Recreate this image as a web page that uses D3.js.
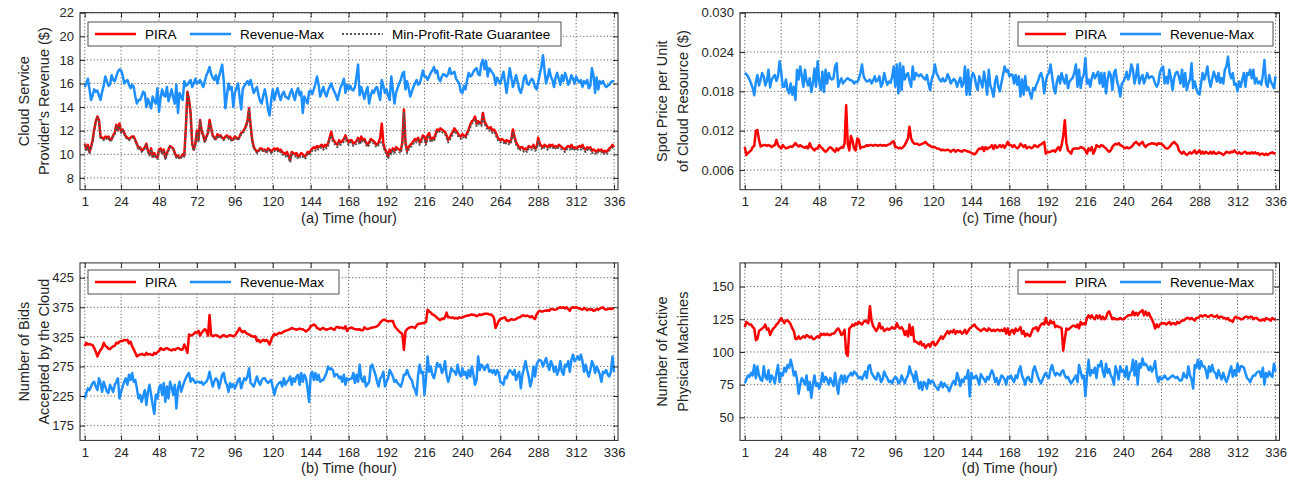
<!DOCTYPE html>
<html>
<head>
<meta charset="utf-8">
<script src="https://cdn.jsdelivr.net/npm/d3@7"></script>
<style>
  body { margin: 0; background: #fff; }
  svg { display: block; font-family: "Liberation Sans", Arial, Helvetica, sans-serif; }
  .grid line { stroke: #555; stroke-width: 0.9; stroke-dasharray: 1.2 2.2; }
  .tick line { stroke: #262626; }
  .tick text { fill: #262626; font-size: 13px; }
</style>
</head>
<body>
<svg id="chart" width="1295" height="485"></svg>
<script>
// hour ticks shared by all four panels
const hourTicks = [1, 24, 48, 72, 96, 120, 144, 168, 192, 216, 240, 264, 288, 312, 336];
const revenueTicks = [8, 10, 12, 14, 16, 18, 20, 22];
const priceTicks = [0.006, 0.012, 0.018, 0.024, 0.030];
const bidTicks = [175, 225, 275, 325, 375, 425];
const machineTicks = [50, 75, 100, 125, 150];

// (a) provider revenue ($), hourly
const revenuePIRA = [
  10.9,10.4,10.8,10.2,10.6,11.2,12.1,12.8,13.2,12.9,11.5,11.4,11.3,11.5,11.4,11.5,11.2,11.3,11.6,11.8,12.5,12.1,12.6,11.9,
  12.1,11.8,11.5,11.4,11.3,11.4,11.5,11.5,11.2,10.9,10.5,10.6,10.3,10.4,10.6,10.9,10.3,10.0,10.5,9.8,10.1,9.8,9.7,10.4,
  10.5,10.1,10.4,9.7,10.1,10.4,10.7,10.6,10.5,10.1,9.8,9.9,9.7,9.8,10.0,9.9,12.3,15.3,14.6,13.5,10.9,10.4,10.9,12.0,
  11.2,12.9,12.0,11.6,11.1,11.5,11.8,12.9,12.2,11.6,11.4,11.3,11.7,11.5,11.6,11.4,11.3,11.5,11.6,11.4,11.5,11.2,11.3,11.5,
  11.4,11.3,11.5,11.8,11.9,12.1,12.4,12.8,13.9,12.4,11.2,10.6,10.4,10.2,10.3,10.5,10.5,10.3,10.4,10.2,10.5,10.4,10.2,10.4,
  10.5,10.4,10.5,10.3,10.4,10.2,10.1,10.0,10.2,9.9,9.5,10.2,10.1,10.0,10.1,9.8,9.9,10.1,10.0,9.8,9.9,10.2,10.1,10.3,
  10.5,10.6,10.5,10.7,10.6,10.7,10.8,10.6,10.8,10.7,10.9,11.4,11.9,11.3,11.1,10.9,10.8,11.2,11.0,11.1,11.3,11.6,11.2,11.0,
  11.2,11.2,10.9,11.0,11.1,11.4,11.0,11.5,11.2,11.3,11.0,10.8,11.0,11.3,11.2,11.1,10.9,10.8,11.0,11.4,12.6,10.9,10.4,10.2,
  9.8,10.4,10.2,10.5,10.3,10.6,10.5,10.4,10.3,11.0,13.8,11.0,10.3,10.6,10.8,10.9,11.1,11.3,11.2,11.4,11.0,11.2,11.6,11.5,
  11.0,11.6,11.8,11.2,11.4,11.3,11.7,12.1,12.0,12.2,12.1,12.0,11.9,11.6,11.2,11.4,11.7,11.9,12.2,12.0,11.8,11.6,11.5,11.7,
  11.6,11.5,11.8,12.1,12.5,12.8,12.9,13.2,12.6,12.8,12.7,12.6,13.5,12.8,12.5,12.3,12.2,12.3,12.0,12.1,11.9,11.5,11.3,11.2,
  11.3,11.2,11.0,11.2,11.1,11.0,11.3,12.1,11.5,11.0,10.8,10.5,10.6,10.6,10.4,10.5,10.4,10.7,10.6,10.6,10.8,10.5,10.6,11.4,
  10.9,10.7,10.6,10.8,10.7,10.6,10.8,10.7,10.8,10.6,10.7,10.6,10.8,10.7,10.6,10.5,10.4,10.6,10.7,10.6,10.8,10.5,10.6,10.5,
  10.6,10.7,10.6,10.8,10.5,10.4,10.6,10.5,10.6,10.3,10.4,10.3,10.2,10.4,10.3,10.4,10.2,10.3,10.2,10.3,10.5,10.6,10.8,10.6
];
const revenueMax = [
  15.7,16.0,16.4,15.5,14.6,15.0,15.5,15.3,15.4,15.0,14.6,15.3,15.8,16.6,16.2,15.8,15.9,16.7,16.3,16.2,16.6,17.0,17.2,17.1,
  16.7,16.0,16.2,16.3,15.9,15.6,15.9,15.7,14.9,14.3,14.6,14.6,14.9,15.3,15.2,14.0,14.7,14.3,13.9,14.9,14.5,14.3,15.6,13.6,
  14.8,15.5,15.0,14.9,15.7,14.5,15.0,15.5,14.8,14.3,15.9,13.5,15.2,14.9,14.6,16.2,15.8,15.9,16.1,16.3,15.7,16.0,16.4,16.0,
  16.1,16.3,16.0,15.7,16.2,16.7,17.0,17.4,16.8,16.5,16.3,16.7,16.0,16.6,17.1,17.6,16.2,13.9,15.0,16.0,15.5,15.7,14.0,15.2,
  15.6,16.0,14.9,13.8,15.5,15.8,16.0,16.2,15.9,16.3,15.7,15.2,15.5,15.7,15.0,14.5,14.3,15.0,15.5,14.8,13.8,13.3,14.6,15.5,
  14.6,15.2,15.6,15.0,14.6,15.1,15.3,14.9,14.8,14.7,15.2,15.5,15.0,14.6,15.3,15.6,15.0,15.3,13.5,14.9,14.6,14.3,15.3,15.4,
  15.1,15.5,16.0,16.6,15.9,14.9,15.3,15.7,15.2,14.9,15.4,15.7,16.0,15.6,15.3,15.0,14.6,15.2,15.7,16.0,16.4,15.2,15.9,15.5,
  15.8,15.5,15.4,15.7,16.6,17.6,15.0,15.7,15.2,14.7,15.3,15.7,14.3,15.0,15.4,15.2,15.6,15.7,15.1,14.6,16.3,15.8,15.2,15.5,
  15.0,14.6,16.6,15.5,14.3,15.2,15.6,16.0,16.3,16.8,17.0,15.5,16.2,15.6,14.9,15.3,15.7,16.0,16.3,15.9,16.0,16.5,17.1,16.6,
  16.6,16.3,16.6,16.9,17.1,17.4,16.9,17.1,16.4,16.2,16.6,16.8,16.7,16.6,16.8,17.3,16.8,16.9,17.0,16.4,16.2,16.0,15.3,15.2,
  15.8,15.5,16.3,16.9,16.6,16.7,17.0,17.2,17.3,16.8,16.7,17.7,18.0,17.2,17.9,16.6,17.3,17.1,16.9,16.7,15.9,16.5,16.2,16.0,
  16.5,17.0,16.1,15.2,16.3,17.3,16.5,15.7,16.2,16.7,16.1,15.5,15.2,15.7,16.5,16.7,16.0,15.9,16.2,16.4,16.2,15.7,15.5,16.1,
  16.8,17.4,18.4,17.1,16.0,16.5,17.2,16.6,16.3,15.7,16.5,16.9,16.4,15.9,16.7,16.2,16.9,16.5,15.9,16.2,16.7,16.4,16.0,16.6,
  16.3,16.1,16.3,15.7,16.2,16.0,16.3,15.6,15.8,17.3,16.7,15.2,16.5,15.5,16.2,16.0,16.2,15.9,15.7,15.8,15.9,16.1,16.2,16.2
];
const revenueMinProfit = [
  10.8,10.3,10.6,10.1,10.5,11.1,12.0,12.7,13.1,12.8,11.4,11.3,11.2,11.4,11.3,11.4,11.1,11.2,11.5,11.7,12.4,12.0,12.4,11.8,
  12.0,11.7,11.4,11.3,11.2,11.3,11.4,11.4,11.1,10.8,10.4,10.5,10.2,10.3,10.5,10.8,10.2,9.9,10.4,9.7,10.0,9.7,9.6,10.3,
  10.4,10.0,10.3,9.6,10.0,10.3,10.6,10.5,10.4,10.0,9.7,9.8,9.6,9.7,9.9,9.8,12.2,15.2,14.5,13.4,10.8,10.3,10.8,11.9,
  11.1,12.8,11.9,11.5,11.0,11.4,11.7,12.7,12.1,11.5,11.3,11.2,11.6,11.4,11.5,11.3,11.2,11.4,11.5,11.3,11.4,11.1,11.2,11.4,
  11.3,11.2,11.4,11.7,11.8,12.0,12.3,12.7,13.8,12.3,11.1,10.5,10.3,10.1,10.2,10.4,10.4,10.2,10.3,10.1,10.4,10.3,10.1,10.3,
  10.3,10.2,10.3,10.1,10.2,10.0,9.9,9.8,10.0,9.7,9.3,10.0,9.9,9.8,9.9,9.6,9.7,9.9,9.8,9.6,9.7,10.0,9.9,10.1,
  10.3,10.4,10.3,10.5,10.4,10.5,10.6,10.4,10.6,10.5,10.7,11.2,11.6,11.1,10.9,10.7,10.6,11.0,10.8,10.9,11.1,11.4,11.0,10.8,
  11.0,11.0,10.7,10.8,10.9,11.2,10.8,11.2,11.0,11.1,10.8,10.6,10.8,11.1,11.0,10.9,10.7,10.6,10.8,11.0,11.0,10.7,10.2,10.0,
  9.6,10.2,10.0,10.3,10.1,10.4,10.3,10.2,10.1,10.8,13.6,10.8,10.1,10.4,10.6,10.7,10.9,11.1,11.0,11.2,10.8,11.0,11.4,11.3,
  10.8,11.4,11.6,11.0,11.2,11.1,11.5,11.9,11.8,12.0,11.9,11.8,11.7,11.4,11.0,11.2,11.5,11.7,12.0,11.8,11.6,11.4,11.3,11.5,
  11.4,11.3,11.6,11.9,12.3,12.6,12.7,13.0,12.4,12.6,12.5,12.4,13.3,12.6,12.3,12.1,12.0,12.1,11.8,11.9,11.7,11.3,11.1,11.0,
  11.1,11.0,10.8,11.0,10.9,10.8,11.1,11.9,11.3,10.8,10.6,10.3,10.4,10.4,10.2,10.3,10.2,10.5,10.4,10.4,10.6,10.3,10.4,11.2,
  10.7,10.5,10.4,10.6,10.5,10.4,10.6,10.5,10.6,10.4,10.5,10.4,10.6,10.5,10.4,10.3,10.2,10.4,10.5,10.4,10.6,10.3,10.4,10.3,
  10.4,10.5,10.4,10.6,10.3,10.2,10.4,10.3,10.4,10.1,10.2,10.1,10.0,10.2,10.1,10.2,10.0,10.1,10.0,10.1,10.3,10.4,10.6,10.4
];

// (c) spot price per unit of cloud resource ($)
const pricePIRA = [
  0.0095,0.0083,0.0086,0.0088,0.0090,0.0095,0.0097,0.0120,0.0121,0.0106,0.0096,0.0097,0.0098,0.0098,0.0097,0.0098,0.0097,0.0095,0.0097,0.0098,0.0106,0.0098,0.0095,0.0093,
  0.0098,0.0095,0.0093,0.0094,0.0095,0.0096,0.0095,0.0098,0.0101,0.0098,0.0096,0.0098,0.0096,0.0095,0.0094,0.0096,0.0093,0.0101,0.0095,0.0092,0.0090,0.0093,0.0093,0.0098,
  0.0095,0.0093,0.0090,0.0088,0.0090,0.0093,0.0095,0.0093,0.0090,0.0088,0.0093,0.0090,0.0093,0.0095,0.0094,0.0100,0.0159,0.0100,0.0090,0.0112,0.0105,0.0093,0.0090,0.0108,
  0.0106,0.0093,0.0095,0.0095,0.0096,0.0098,0.0097,0.0098,0.0098,0.0097,0.0098,0.0098,0.0097,0.0098,0.0098,0.0097,0.0098,0.0097,0.0098,0.0099,0.0100,0.0103,0.0104,0.0095,
  0.0095,0.0093,0.0094,0.0093,0.0095,0.0098,0.0103,0.0108,0.0126,0.0108,0.0103,0.0100,0.0100,0.0100,0.0098,0.0099,0.0100,0.0101,0.0103,0.0100,0.0098,0.0097,0.0095,0.0095,
  0.0095,0.0093,0.0093,0.0092,0.0090,0.0091,0.0090,0.0090,0.0091,0.0090,0.0088,0.0090,0.0091,0.0088,0.0090,0.0090,0.0089,0.0088,0.0090,0.0090,0.0089,0.0088,0.0088,0.0086,
  0.0085,0.0084,0.0086,0.0090,0.0093,0.0092,0.0095,0.0089,0.0095,0.0092,0.0094,0.0095,0.0098,0.0092,0.0098,0.0094,0.0095,0.0098,0.0095,0.0098,0.0094,0.0098,0.0103,0.0098,
  0.0098,0.0095,0.0098,0.0095,0.0093,0.0095,0.0100,0.0098,0.0095,0.0098,0.0093,0.0095,0.0095,0.0093,0.0095,0.0098,0.0096,0.0095,0.0098,0.0099,0.0101,0.0103,0.0085,0.0088,
  0.0087,0.0088,0.0089,0.0090,0.0088,0.0092,0.0095,0.0090,0.0098,0.0112,0.0136,0.0101,0.0090,0.0088,0.0085,0.0092,0.0093,0.0093,0.0093,0.0093,0.0095,0.0094,0.0093,0.0090,
  0.0085,0.0093,0.0090,0.0095,0.0085,0.0090,0.0098,0.0096,0.0095,0.0098,0.0097,0.0095,0.0093,0.0090,0.0088,0.0090,0.0095,0.0098,0.0100,0.0099,0.0101,0.0098,0.0097,0.0095,
  0.0093,0.0095,0.0093,0.0094,0.0095,0.0098,0.0101,0.0103,0.0100,0.0098,0.0101,0.0103,0.0098,0.0095,0.0098,0.0099,0.0100,0.0101,0.0100,0.0100,0.0098,0.0101,0.0100,0.0100,
  0.0098,0.0095,0.0093,0.0093,0.0095,0.0098,0.0101,0.0103,0.0100,0.0098,0.0090,0.0087,0.0085,0.0088,0.0085,0.0083,0.0085,0.0087,0.0085,0.0087,0.0090,0.0085,0.0087,0.0090,
  0.0085,0.0088,0.0085,0.0088,0.0086,0.0085,0.0088,0.0085,0.0088,0.0085,0.0085,0.0087,0.0086,0.0085,0.0083,0.0085,0.0088,0.0087,0.0086,0.0088,0.0087,0.0090,0.0087,0.0085,
  0.0087,0.0085,0.0085,0.0087,0.0088,0.0085,0.0086,0.0085,0.0087,0.0085,0.0087,0.0085,0.0086,0.0083,0.0085,0.0085,0.0083,0.0085,0.0083,0.0085,0.0086,0.0087,0.0085,0.0086
];
const priceMax = [
  0.0208,0.0206,0.0203,0.0198,0.0192,0.0185,0.0174,0.0194,0.0205,0.0189,0.0198,0.0208,0.0203,0.0189,0.0196,0.0213,0.0186,0.0198,0.0202,0.0205,0.0196,0.0203,0.0226,0.0210,
  0.0187,0.0187,0.0198,0.0182,0.0177,0.0192,0.0175,0.0187,0.0167,0.0213,0.0198,0.0218,0.0203,0.0187,0.0213,0.0196,0.0189,0.0200,0.0179,0.0192,0.0215,0.0187,0.0226,0.0195,
  0.0182,0.0210,0.0179,0.0213,0.0192,0.0208,0.0200,0.0198,0.0200,0.0218,0.0223,0.0187,0.0195,0.0200,0.0192,0.0195,0.0198,0.0200,0.0198,0.0197,0.0196,0.0192,0.0195,0.0194,
  0.0199,0.0208,0.0221,0.0203,0.0198,0.0195,0.0196,0.0198,0.0192,0.0196,0.0203,0.0195,0.0197,0.0203,0.0187,0.0192,0.0208,0.0198,0.0190,0.0195,0.0193,0.0202,0.0218,0.0187,
  0.0221,0.0177,0.0223,0.0182,0.0218,0.0198,0.0205,0.0208,0.0196,0.0187,0.0218,0.0198,0.0208,0.0205,0.0203,0.0206,0.0203,0.0200,0.0198,0.0205,0.0191,0.0182,0.0199,0.0205,
  0.0221,0.0208,0.0203,0.0198,0.0195,0.0200,0.0195,0.0197,0.0206,0.0201,0.0192,0.0196,0.0199,0.0196,0.0187,0.0194,0.0201,0.0187,0.0192,0.0218,0.0175,0.0213,0.0175,0.0200,
  0.0208,0.0203,0.0190,0.0182,0.0203,0.0195,0.0186,0.0210,0.0195,0.0175,0.0213,0.0189,0.0182,0.0172,0.0195,0.0203,0.0187,0.0180,0.0193,0.0205,0.0218,0.0210,0.0213,0.0203,
  0.0206,0.0205,0.0192,0.0205,0.0190,0.0203,0.0172,0.0198,0.0175,0.0203,0.0182,0.0186,0.0177,0.0169,0.0185,0.0182,0.0190,0.0195,0.0203,0.0208,0.0200,0.0177,0.0195,0.0205,
  0.0208,0.0221,0.0203,0.0185,0.0177,0.0195,0.0203,0.0192,0.0208,0.0198,0.0192,0.0205,0.0185,0.0195,0.0198,0.0201,0.0208,0.0221,0.0187,0.0213,0.0185,0.0200,0.0205,0.0231,
  0.0192,0.0198,0.0187,0.0200,0.0208,0.0200,0.0205,0.0210,0.0192,0.0208,0.0187,0.0208,0.0177,0.0198,0.0210,0.0205,0.0182,0.0208,0.0213,0.0195,0.0187,0.0172,0.0192,0.0195,
  0.0200,0.0210,0.0198,0.0205,0.0221,0.0213,0.0192,0.0203,0.0221,0.0192,0.0200,0.0205,0.0192,0.0200,0.0208,0.0200,0.0202,0.0203,0.0200,0.0192,0.0187,0.0192,0.0208,0.0215,
  0.0218,0.0192,0.0202,0.0192,0.0213,0.0200,0.0182,0.0200,0.0208,0.0210,0.0203,0.0192,0.0213,0.0187,0.0208,0.0182,0.0192,0.0198,0.0223,0.0185,0.0195,0.0185,0.0177,0.0175,
  0.0192,0.0208,0.0198,0.0206,0.0218,0.0198,0.0187,0.0199,0.0210,0.0203,0.0195,0.0208,0.0193,0.0200,0.0192,0.0213,0.0218,0.0233,0.0208,0.0200,0.0208,0.0190,0.0192,0.0180,
  0.0195,0.0187,0.0198,0.0208,0.0187,0.0208,0.0205,0.0213,0.0200,0.0213,0.0192,0.0200,0.0192,0.0195,0.0190,0.0205,0.0228,0.0192,0.0187,0.0205,0.0195,0.0190,0.0185,0.0203
];

// (b) number of bids accepted by the cloud
const bidsPIRA = [
  309,315,312,313,312,311,306,300,292,298,303,306,315,310,308,305,304,307,309,310,315,314,317,318,
  318,320,319,320,314,317,309,304,298,292,294,295,296,295,294,298,295,296,295,294,298,296,299,301,
  306,304,303,305,306,304,303,302,304,303,305,306,305,303,304,312,306,298,329,327,328,330,333,332,
  335,327,332,335,338,335,327,362,328,326,327,328,327,325,324,327,328,326,325,327,328,327,326,327,
  331,335,340,335,333,335,332,330,329,327,326,325,326,318,320,316,318,320,318,320,317,312,320,326,
  330,328,330,332,331,332,334,335,336,337,338,340,339,338,337,338,339,338,338,336,334,336,338,343,
  344,346,344,340,339,337,339,340,338,337,338,339,340,338,337,341,342,340,341,340,339,343,335,339,
  340,341,339,338,338,337,338,336,336,341,339,338,339,340,341,341,342,343,345,349,352,354,354,352,
  351,352,352,352,344,340,337,334,332,330,303,334,338,340,341,342,341,340,344,347,347,348,348,349,
  350,371,368,366,363,362,360,357,355,353,356,355,358,366,358,358,357,358,356,357,356,358,357,358,
  359,360,361,361,362,363,362,362,360,361,363,362,363,364,364,364,363,363,361,357,340,346,352,355,
  356,357,358,353,352,353,355,354,354,355,357,358,359,361,361,360,361,360,358,360,357,355,363,367,
  369,368,368,369,369,370,369,372,372,371,371,372,374,375,374,375,373,375,372,369,374,375,374,375,
  374,373,372,371,374,372,370,372,371,372,369,370,372,371,373,374,375,372,371,372,373,372,373,373
];
const bidsMax = [
  221,230,238,235,241,247,249,241,235,255,247,232,249,241,233,230,244,238,232,244,249,255,221,232,
  241,249,255,244,261,252,264,249,252,238,221,227,215,225,235,210,232,244,227,210,195,227,221,238,
  244,227,247,215,241,221,249,240,227,244,204,238,249,232,241,249,255,261,264,249,255,252,247,249,
  249,247,249,244,247,249,255,266,252,241,250,255,252,238,249,261,264,249,244,232,247,240,245,238,
  244,252,255,238,247,255,252,258,272,247,244,241,250,258,249,244,252,255,255,250,247,250,252,240,
  227,238,244,247,249,241,255,244,249,252,258,244,255,249,258,261,244,264,249,261,255,238,215,261,
  266,252,264,252,261,249,252,252,258,264,275,270,272,269,258,262,261,255,258,249,261,244,255,252,
  254,255,264,247,261,249,278,255,249,258,241,245,249,275,278,269,261,249,241,255,258,266,241,249,
  255,269,264,258,249,252,247,244,241,249,261,261,269,261,255,252,241,236,227,261,278,264,266,227,
  255,292,266,275,261,255,266,281,275,278,264,269,284,261,249,258,272,268,266,261,278,264,258,272,
  261,266,255,269,258,275,261,244,252,292,269,278,275,269,275,278,266,269,264,269,261,269,264,249,
  247,244,258,255,264,269,266,261,269,252,260,266,238,261,272,284,269,258,241,252,275,258,278,284,
  286,284,275,282,289,278,269,284,278,266,275,261,269,284,266,261,278,275,284,266,286,295,284,287,
  292,286,295,284,266,278,266,258,269,284,278,264,275,269,261,249,266,264,269,261,258,266,292,266
];

// (d) number of active physical machines
const machinesPIRA = [
  119,123,122,121,121,119,118,109,110,116,117,118,119,121,117,118,113,116,118,119,121,122,124,126,
  124,122,124,124,123,121,118,116,110,110,112,110,111,112,111,113,112,111,112,110,110,111,112,111,
  114,113,114,113,114,113,113,114,114,115,117,118,116,113,114,117,99,97,118,119,121,120,122,121,
  123,122,121,123,124,123,122,135,124,120,118,116,118,122,118,119,116,117,118,117,118,119,118,118,
  122,119,118,119,117,113,116,112,121,113,119,108,108,107,106,108,105,106,103,105,106,104,107,108,
  105,106,108,110,112,110,112,114,116,114,116,115,117,114,116,115,116,114,115,117,114,116,118,119,
  120,121,119,118,117,116,117,118,117,116,118,117,116,117,116,117,117,116,117,116,118,114,118,113,
  116,117,114,118,116,117,119,114,116,112,114,113,112,115,118,118,119,116,119,121,122,121,126,122,
  121,124,122,123,119,120,119,119,118,101,110,118,117,118,119,120,120,119,121,118,123,121,122,121,
  126,128,126,128,126,125,128,126,128,125,127,125,126,130,131,128,125,126,125,125,125,126,125,125,
  126,127,128,128,128,131,128,130,128,130,131,132,128,131,128,130,127,125,122,118,121,119,121,122,
  122,122,121,122,123,121,122,122,121,123,122,123,124,124,125,126,126,125,126,125,124,126,126,127,
  128,127,128,128,127,127,128,128,127,127,128,126,127,127,126,126,125,126,124,124,123,126,127,126,
  126,125,125,126,127,127,126,127,127,125,126,126,125,124,124,125,124,126,125,125,124,126,125,125
];
const machinesMax = [
  76,79,82,81,84,82,90,80,89,82,79,78,89,81,79,86,77,82,80,76,84,90,77,84,
  82,88,85,90,88,94,89,82,85,79,68,75,80,78,75,82,71,77,65,75,82,74,76,72,
  76,84,77,81,79,75,80,77,74,84,75,68,79,82,76,82,77,81,82,84,82,85,84,82,
  80,81,79,82,85,80,89,90,84,82,80,79,84,82,77,79,85,82,80,77,78,76,79,81,
  80,76,77,82,79,76,80,82,89,84,82,77,85,79,72,77,71,77,76,72,79,76,78,77,
  74,73,71,74,77,73,76,74,73,70,73,76,78,75,84,80,74,79,77,81,80,86,66,84,
  80,80,82,79,75,83,81,79,77,81,79,83,86,83,77,80,75,78,82,81,79,75,81,80,
  82,79,77,82,80,86,89,82,79,75,80,81,78,77,86,89,85,81,78,76,79,82,84,81,
  80,87,90,85,82,84,83,82,85,86,82,80,81,78,76,78,80,82,77,90,85,80,82,66,
  82,94,82,86,84,88,80,90,89,93,85,81,91,84,87,82,80,75,89,85,79,89,85,86,
  81,89,79,84,86,94,82,93,75,91,88,95,90,91,89,86,89,85,88,93,82,77,81,79,
  80,82,80,79,80,81,82,81,80,81,79,78,79,84,81,80,89,82,79,72,90,88,94,87,
  93,89,89,86,80,89,85,90,85,84,80,86,82,79,84,80,77,80,85,89,81,86,82,91,
  85,89,89,88,84,80,79,77,80,82,82,84,85,85,81,88,75,84,81,85,82,81,91,85
];

const RED = '#ff0000';
const BLUE = '#1e8fff';
const GREY = '#555555';

const svg = d3.select('#chart');

const panels = [
  {
    box: {left: 80, right: 618, top: 12.7, bottom: 189.7},
    yDomain: [7, 22], yTicks: revenueTicks, yFormat: d3.format('d'),
    series: [
      {values: revenuePIRA, color: RED, width: 2.5},
      {values: revenueMax, color: BLUE, width: 2.5},
      {values: revenueMinProfit, color: GREY, width: 2, dash: '2 2'}
    ],
    yLabel: ['Cloud Service', "Provider's Revenue ($)"], labelX: [24, 44],
    xLabel: '(a) Time (hour)',
    legend: {x: 88, y: 22, w: 473, items: [
      {label: 'PIRA', color: RED, x: 95},
      {label: 'Revenue-Max', color: BLUE, x: 190},
      {label: 'Min-Profit-Rate Guarantee', color: GREY, x: 342, dash: '2 2', width: 2}
    ]}
  },
  {
    box: {left: 740, right: 1279.5, top: 12.7, bottom: 189.7},
    yDomain: [0.003, 0.030], yTicks: priceTicks, yFormat: d3.format('.3f'),
    series: [
      {values: pricePIRA, color: RED, width: 2.5},
      {values: priceMax, color: BLUE, width: 2.5}
    ],
    yLabel: ['Spot Price per Unit', 'of Cloud Resource ($)'], labelX: [662, 683],
    xLabel: '(c) Time (hour)',
    legend: {x: 1018, y: 22, w: 255, items: [
      {label: 'PIRA', color: RED, x: 1025},
      {label: 'Revenue-Max', color: BLUE, x: 1120}
    ]}
  },
  {
    box: {left: 80, right: 618, top: 262.9, bottom: 440.4},
    yDomain: [150, 450], yTicks: bidTicks, yFormat: d3.format('d'),
    series: [
      {values: bidsPIRA, color: RED, width: 2.5},
      {values: bidsMax, color: BLUE, width: 2.5}
    ],
    yLabel: ['Number of Bids', 'Accepted by the Cloud'], labelX: [24, 44],
    xLabel: '(b) Time (hour)',
    legend: {x: 88, y: 270, w: 251, items: [
      {label: 'PIRA', color: RED, x: 95},
      {label: 'Revenue-Max', color: BLUE, x: 190}
    ]}
  },
  {
    box: {left: 740, right: 1279.5, top: 262.9, bottom: 440.4},
    yDomain: [32.4, 168.1], yTicks: machineTicks, yFormat: d3.format('d'),
    series: [
      {values: machinesPIRA, color: RED, width: 2.5},
      {values: machinesMax, color: BLUE, width: 2.5}
    ],
    yLabel: ['Number of Active', 'Physical Machines'], labelX: [662, 683],
    xLabel: '(d) Time (hour)',
    legend: {x: 1018, y: 270, w: 255, items: [
      {label: 'PIRA', color: RED, x: 1025},
      {label: 'Revenue-Max', color: BLUE, x: 1120}
    ]}
  }
];

function drawPanel(p) {
  const {left, right, top, bottom} = p.box;
  const g = svg.append('g');
  const x = d3.scaleLinear().domain([-2, 338.5]).range([left, right]);
  const y = d3.scaleLinear().domain(p.yDomain).range([bottom, top]);

  // dotted grid
  const grid = g.append('g').attr('class', 'grid');
  grid.selectAll('.gx').data(hourTicks).join('line')
    .attr('x1', d => x(d)).attr('x2', d => x(d))
    .attr('y1', top).attr('y2', bottom);
  grid.selectAll('.gy').data(p.yTicks).join('line')
    .attr('x1', left).attr('x2', right)
    .attr('y1', d => y(d)).attr('y2', d => y(d));

  // data lines
  const line = d3.line().x((d, i) => x(i + 1)).y(d => y(d));
  p.series.forEach(s => {
    g.append('path').datum(s.values)
      .attr('d', line)
      .attr('fill', 'none')
      .attr('stroke', s.color)
      .attr('stroke-width', s.width)
      .attr('stroke-linejoin', 'round')
      .attr('stroke-dasharray', s.dash || null);
  });

  // axes, ticks pointing inward
  const axes = [
    g.append('g').attr('transform', `translate(0,${bottom})`)
      .call(d3.axisBottom(x).tickValues(hourTicks).tickSizeInner(-5).tickSizeOuter(0).tickPadding(7)),
    g.append('g').attr('transform', `translate(0,${top})`)
      .call(d3.axisTop(x).tickValues(hourTicks).tickSizeInner(-5).tickSizeOuter(0).tickFormat('')),
    g.append('g').attr('transform', `translate(${left},0)`)
      .call(d3.axisLeft(y).tickValues(p.yTicks).tickFormat(p.yFormat).tickSizeInner(-5).tickSizeOuter(0).tickPadding(6)),
    g.append('g').attr('transform', `translate(${right},0)`)
      .call(d3.axisRight(y).tickValues(p.yTicks).tickSizeInner(-5).tickSizeOuter(0).tickFormat(''))
  ];
  axes.forEach(a => { a.select('.domain').remove(); a.attr('font-family', null).attr('font-size', null); });

  g.append('rect')
    .attr('x', left).attr('y', top)
    .attr('width', right - left).attr('height', bottom - top)
    .attr('fill', 'none').attr('stroke', '#262626').attr('stroke-width', 1);

  // axis titles
  g.append('text')
    .attr('x', (left + right) / 2).attr('y', bottom + 33)
    .attr('text-anchor', 'middle').attr('font-size', 14.5).attr('fill', '#262626')
    .text(p.xLabel);
  const midY = (top + bottom) / 2;
  p.yLabel.forEach((t, i) => {
    g.append('text')
      .attr('transform', `translate(${p.labelX[i]},${midY}) rotate(-90)`)
      .attr('text-anchor', 'middle').attr('dy', '0.35em')
      .attr('font-size', 14.5).attr('fill', '#262626')
      .text(t);
  });

  // legend
  const L = p.legend;
  const lg = g.append('g');
  lg.append('rect')
    .attr('x', L.x).attr('y', L.y).attr('width', L.w).attr('height', 24)
    .attr('fill', '#fff').attr('stroke', '#262626').attr('stroke-width', 0.8);
  L.items.forEach(it => {
    lg.append('line')
      .attr('x1', it.x).attr('x2', it.x + 41)
      .attr('y1', L.y + 12).attr('y2', L.y + 12)
      .attr('stroke', it.color).attr('stroke-width', it.width || 2.5)
      .attr('stroke-dasharray', it.dash || null);
    lg.append('text')
      .attr('x', it.x + 50).attr('y', L.y + 12).attr('dy', '0.35em')
      .attr('font-size', 13.5).attr('fill', '#000')
      .text(it.label);
  });
}

panels.forEach(drawPanel);
</script>
</body>
</html>
